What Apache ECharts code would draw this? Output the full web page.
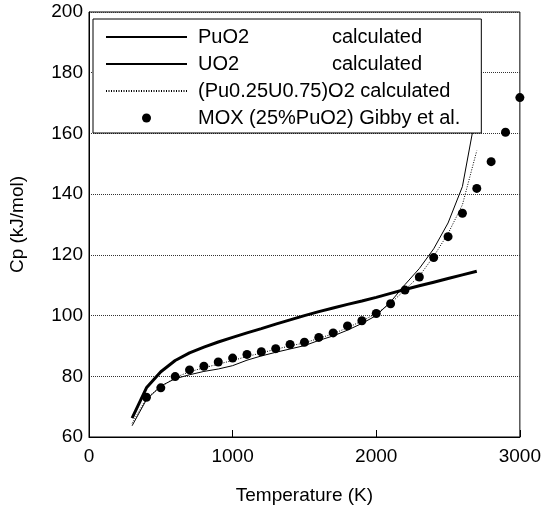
<!DOCTYPE html>
<html>
<head>
<meta charset="utf-8">
<script src="https://cdn.jsdelivr.net/npm/echarts@6/dist/echarts.min.js"></script>
<style>html,body{margin:0;padding:0;background:#fff}#c{width:544px;height:510px}</style>
</head>
<body>
<div id="c"></div>
<script>
// Temperatures (K) for the calculated curves
var tempCalc = [300,400,500,600,700,800,900,1000,1100,1200,1300,1400,1500,1600,1700,1800,1900,2000,2100,2200,2300,2400,2500,2600,2700];
var puo2 = [66.2,76.2,81.5,85.2,87.7,89.6,91.3,92.8,94.3,95.7,97.2,98.6,100.0,101.3,102.5,103.7,104.8,106.0,107.3,108.6,109.8,111.0,112.2,113.4,114.6];
var uo2 = [63.7,72.3,76.8,79.2,80.5,81.6,82.4,83.5,85.3,86.7,87.9,89.0,90.1,91.8,93.3,95.2,97.4,100.0,104.5,110.2,115.5,122.0,130.5,142.5,168.0];
var mixed = [64.5,72.8,76.5,79.6,81.5,82.8,84.0,85.2,86.5,87.7,88.9,90.0,91.0,92.5,94.0,96.0,98.2,100.7,104.0,108.5,113.0,119.5,127.0,136.5,154.3];
// Gibby et al. measurements
var tempMox = [400,500,600,700,800,900,1000,1100,1200,1300,1400,1500,1600,1700,1800,1900,2000,2100,2200,2300,2400,2500,2600,2700,2800,2900,3000];
var mox = [73.1,76.2,79.9,82.1,83.3,84.7,86.0,87.2,88.1,89.1,90.5,91.2,92.8,94.3,96.6,98.3,100.7,103.9,108.4,112.7,119.1,126.0,133.7,141.9,150.7,160.4,171.8];
var xTicks = [0,1000,2000,3000];
var yTicks = [60,80,100,120,140,160,180,200];
var seriesNames = ['PuO2', 'UO2', '(Pu0.25U0.75)O2', 'MOX (25%PuO2) Gibby et al.'];

function zip(xs, ys){ return xs.map(function(x,i){ return [x, ys[i]]; }); }

var font = 'Liberation Sans, Arial, sans-serif';
var chart = echarts.init(document.getElementById('c'), null, {renderer:'canvas'});
chart.setOption({
  animation: false,
  backgroundColor: '#fff',
  grid: {left: 86, right: 23, top: 12, bottom: 72, show: true, borderColor: '#000', borderWidth: 1, backgroundColor: 'transparent'},
  legend: {
    orient: 'vertical', left: 93, top: 19, z: 10,
    padding: [8, 21, 5, 12],
    itemGap: 7, itemWidth: 81, itemHeight: 9,
    backgroundColor: '#fff', borderColor: '#000', borderWidth: 1, borderRadius: 0,
    data: [
      {name: seriesNames[0], itemStyle: {opacity: 0}},
      {name: seriesNames[1], itemStyle: {opacity: 0}},
      {name: seriesNames[2], itemStyle: {opacity: 0}},
      {name: seriesNames[3]}
    ],
    formatter: function(n){
      if (n === 'PuO2' || n === 'UO2') return '{a|' + n + '}{b|calculated}';
      if (n === '(Pu0.25U0.75)O2') return n + ' calculated';
      return n;
    },
    textStyle: {fontFamily: font, fontSize: 20, color: '#000', lineHeight: 20, padding: [0,0,0,6],
      rich: {a: {width: 134, fontFamily: font, fontSize: 20, color: '#000'}, b: {fontFamily: font, fontSize: 20, color: '#000'}}}
  },
  xAxis: {
    type: 'value', min: 0, max: 3000, interval: 1000,
    name: 'Temperature (K)', nameLocation: 'middle', nameGap: 49,
    nameTextStyle: {fontFamily: font, fontSize: 19, color: '#000'},
    axisLine: {lineStyle: {color: '#000', width: 1}},
    axisTick: {inside: true, length: 7, lineStyle: {color: '#000'}},
    axisLabel: {fontFamily: font, fontSize: 19, color: '#000', margin: 10,
      formatter: function(v){ return xTicks.indexOf(v) >= 0 ? String(v) : ''; }},
    splitLine: {show: false}
  },
  yAxis: {
    type: 'value', min: 60, max: 200, interval: 20,
    name: 'Cp (kJ/mol)', nameLocation: 'middle', nameGap: 62,
    nameTextStyle: {fontFamily: font, fontSize: 19, color: '#000'},
    axisLine: {lineStyle: {color: '#000', width: 1}},
    axisTick: {show: false},
    axisLabel: {fontFamily: font, fontSize: 19, color: '#000', margin: 6,
      formatter: function(v){ return yTicks.indexOf(v) >= 0 ? String(v) : ''; }},
    splitLine: {show: true, lineStyle: {color: '#333', width: 1, type: [1,1]}}
  },
  series: [
    {name: seriesNames[0], type: 'line', data: zip(tempCalc, puo2), symbol: 'none',
     lineStyle: {color: '#000', width: 3}, itemStyle: {color: '#000'}, z: 3},
    {name: seriesNames[1], type: 'line', data: zip(tempCalc, uo2), symbol: 'none',
     lineStyle: {color: '#000', width: 1}, itemStyle: {color: '#000'}, z: 3},
    {name: seriesNames[2], type: 'line', data: zip(tempCalc, mixed), symbol: 'none',
     lineStyle: {color: '#000', width: 1, type: [1,1.5]}, itemStyle: {color: '#000'}, z: 3},
    {name: seriesNames[3], type: 'scatter', data: zip(tempMox, mox), symbol: 'circle', symbolSize: 9,
     itemStyle: {color: '#000', opacity: 1}, z: 3}
  ]
});
</script>
</body>
</html>
